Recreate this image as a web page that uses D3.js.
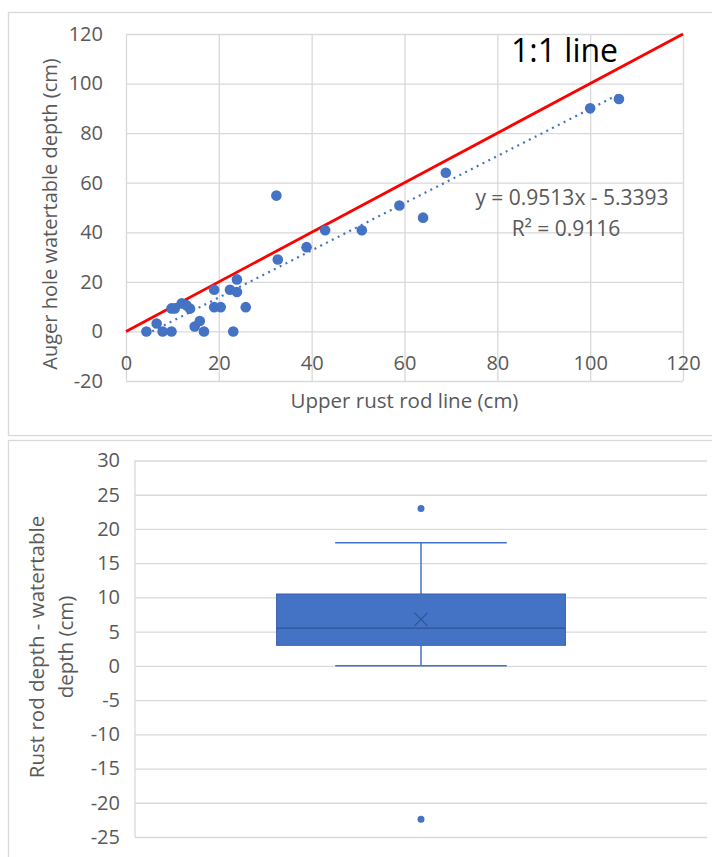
<!DOCTYPE html>
<html lang="en">
<head>
<meta charset="utf-8"/>
<script src="https://d3js.org/d3.v7.min.js"></script>
<style>
  body { margin: 0; background: #fff; }
  svg text { font-family: "Open Sans", "Segoe UI", sans-serif; }
</style>
</head>
<body>
<div id="chart"></div>
<script>
// scatter: upper rust rod line vs auger hole watertable depth (cm)
var rodDepth   = [4.4, 6.6, 7.9, 9.8, 9.8, 10.5, 12, 13, 13.8, 14.8, 15.9, 16.8, 19, 19, 20.4, 22.4, 23.9, 23.9, 23.1, 25.8,
                  32.4, 32.7, 38.9, 42.9, 50.8, 58.9, 64, 68.9, 100, 106.2];
var waterDepth = [0, 3.2, 0, 0, 9.3, 9.3, 11.3, 10.6, 9.2, 2, 4.2, 0, 16.8, 9.8, 9.8, 16.8, 21, 15.9, 0, 9.8,
                  54.8, 29, 34, 40.8, 40.8, 50.8, 45.9, 64, 90, 93.8];
var slope = 0.9513, intercept = -5.3393, r2 = 0.9116;
var oneToOne = [0, 120];
var xTicksTop = [0, 20, 40, 60, 80, 100, 120];
var yTicksTop = [-20, 0, 20, 40, 60, 80, 100, 120];

// box plot: rust rod depth - watertable depth (cm)
var boxCategory = [""];
var boxQ1 = 3, boxMedian = 5.5, boxQ3 = 10.5, boxLow = 0, boxHigh = 18, boxMean = 6.8;
var boxOutliers = [23, -22.4];
var yTicksBottom = [-25, -20, -15, -10, -5, 0, 5, 10, 15, 20, 25, 30];

var W = 712, H = 857;
var blue = "#4472c4", grid = "#d9d9d9", textCol = "#595959";
var fmt = function (d) { return String(d); };   // plain hyphen minus, like Excel

var svg = d3.select("#chart").append("svg")
    .attr("width", W).attr("height", H);

// panel frames
svg.append("rect").attr("x", 8.5).attr("y", 12.5).attr("width", 720).attr("height", 423)
    .attr("fill", "none").attr("stroke", grid).attr("stroke-width", 1.3);
svg.append("rect").attr("x", 8.5).attr("y", 440.5).attr("width", 720).attr("height", 430)
    .attr("fill", "none").attr("stroke", grid).attr("stroke-width", 1.3);

// ---------- top chart ----------
var x = d3.scaleLinear().domain([0, 120]).range([126, 683]);
var y = d3.scaleLinear().domain([-20, 120]).range([381, 34]);

svg.append("g")
    .attr("transform", "translate(0," + y(-20) + ")")
    .call(d3.axisBottom(x).tickValues(xTicksTop).tickSize(-(y(-20) - y(120))).tickFormat(""))
    .call(function (g) { g.select(".domain").remove(); })
    .selectAll("line").attr("stroke", grid).attr("stroke-width", 1.3);

svg.append("g")
    .attr("transform", "translate(" + x(0) + ",0)")
    .call(d3.axisLeft(y).tickValues(yTicksTop).tickSize(-(x(120) - x(0))).tickFormat(""))
    .call(function (g) { g.select(".domain").remove(); })
    .selectAll("line").attr("stroke", grid).attr("stroke-width", 1.3);

var xAxisTop = svg.append("g")
    .attr("transform", "translate(0," + y(0) + ")")
    .call(d3.axisBottom(x).tickValues(xTicksTop).tickFormat(fmt).tickSize(0).tickPadding(24));
xAxisTop.select(".domain").remove();
xAxisTop.selectAll("text").attr("fill", textCol).style("font-size", "20px");

var yAxisTop = svg.append("g")
    .attr("transform", "translate(" + x(0) + ",0)")
    .call(d3.axisLeft(y).tickValues(yTicksTop).tickFormat(fmt).tickSize(0).tickPadding(23));
yAxisTop.select(".domain").remove();
yAxisTop.selectAll("text").attr("fill", textCol).style("font-size", "20px");

svg.append("text")
    .attr("x", (x(0) + x(120)) / 2).attr("y", 408)
    .attr("text-anchor", "middle").attr("fill", textCol)
    .style("font-size", "20.5px")
    .text("Upper rust rod line (cm)");

svg.append("text")
    .attr("transform", "translate(57,214) rotate(-90)")
    .attr("text-anchor", "middle").attr("fill", textCol)
    .style("font-size", "20px")
    .text("Auger hole watertable depth (cm)");

// trendline
var xMin = d3.min(rodDepth), xMax = d3.max(rodDepth);
svg.append("line")
    .attr("x1", x(xMin)).attr("y1", y(slope * xMin + intercept))
    .attr("x2", x(xMax)).attr("y2", y(slope * xMax + intercept))
    .attr("stroke", blue).attr("stroke-width", 2.2)
    .attr("stroke-dasharray", "2,4.5");

// 1:1 line
svg.append("line")
    .attr("x1", x(oneToOne[0])).attr("y1", y(oneToOne[0]))
    .attr("x2", x(oneToOne[1])).attr("y2", y(oneToOne[1]))
    .attr("stroke", "#ff0000").attr("stroke-width", 2.8);

svg.selectAll("circle.pt")
    .data(d3.range(rodDepth.length))
    .enter().append("circle")
    .attr("class", "pt")
    .attr("cx", function (i) { return x(rodDepth[i]); })
    .attr("cy", function (i) { return y(waterDepth[i]); })
    .attr("r", 5.3)
    .attr("fill", blue);

svg.append("text")
    .attr("x", 511).attr("y", 62)
    .attr("fill", "#000").style("font-size", "32px")
    .text("1:1 line");

svg.append("text")
    .attr("x", 572).attr("y", 205)
    .attr("text-anchor", "middle").attr("fill", textCol)
    .style("font-size", "21px")
    .text("y = " + slope + "x - " + Math.abs(intercept));
svg.append("text")
    .attr("x", 566).attr("y", 236)
    .attr("text-anchor", "middle").attr("fill", textCol)
    .style("font-size", "21px")
    .text("R² = " + r2);

// ---------- bottom chart ----------
var xb = d3.scaleBand().domain(boxCategory).range([135, 707]).padding(0);
var yb = d3.scaleLinear().domain([-25, 30]).range([837, 460.5]);

svg.append("g")
    .attr("transform", "translate(" + xb.range()[0] + ",0)")
    .call(d3.axisLeft(yb).tickValues(yTicksBottom).tickSize(-(xb.range()[1] - xb.range()[0])).tickFormat(""))
    .call(function (g) { g.select(".domain").remove(); })
    .selectAll("line").attr("stroke", grid).attr("stroke-width", 1.3);

svg.append("line")
    .attr("x1", xb.range()[0]).attr("x2", xb.range()[0])
    .attr("y1", yb(30)).attr("y2", yb(-25))
    .attr("stroke", grid).attr("stroke-width", 1.3);

var yAxisBottom = svg.append("g")
    .attr("transform", "translate(" + xb.range()[0] + ",0)")
    .call(d3.axisLeft(yb).tickValues(yTicksBottom).tickFormat(fmt).tickSize(0).tickPadding(15));
yAxisBottom.select(".domain").remove();
yAxisBottom.selectAll("text").attr("fill", textCol).style("font-size", "20px");

var yTitle = svg.append("text")
    .attr("transform", "translate(0,647) rotate(-90)")
    .attr("text-anchor", "middle").attr("fill", textCol)
    .style("font-size", "20.5px");
yTitle.append("tspan").attr("x", 0).attr("y", 44).text("Rust rod depth - watertable");
yTitle.append("tspan").attr("x", 0).attr("y", 73).text("depth (cm)");

var cx = xb(boxCategory[0]) + xb.bandwidth() / 2;
var boxW = xb.bandwidth() * 0.505;
var capW = xb.bandwidth() * 0.15;

// whiskers
svg.append("line")
    .attr("x1", cx).attr("x2", cx).attr("y1", yb(boxHigh)).attr("y2", yb(boxQ3))
    .attr("stroke", blue).attr("stroke-width", 1.5);
svg.append("line")
    .attr("x1", cx).attr("x2", cx).attr("y1", yb(boxQ1)).attr("y2", yb(boxLow))
    .attr("stroke", blue).attr("stroke-width", 1.5);
[boxHigh, boxLow].forEach(function (v) {
    svg.append("line")
        .attr("x1", cx - capW).attr("x2", cx + capW).attr("y1", yb(v)).attr("y2", yb(v))
        .attr("stroke", blue).attr("stroke-width", 1.5);
});

svg.append("rect")
    .attr("x", cx - boxW / 2).attr("y", yb(boxQ3))
    .attr("width", boxW).attr("height", yb(boxQ1) - yb(boxQ3))
    .attr("fill", blue).attr("stroke", "#3a63ad").attr("stroke-width", 1);

svg.append("line")
    .attr("x1", cx - boxW / 2).attr("x2", cx + boxW / 2)
    .attr("y1", yb(boxMedian)).attr("y2", yb(boxMedian))
    .attr("stroke", "#2f5597").attr("stroke-width", 1.3);

// mean marker
var m = 6.5;
svg.append("path")
    .attr("d", "M" + (cx - m) + "," + (yb(boxMean) - m) + "L" + (cx + m) + "," + (yb(boxMean) + m) +
               "M" + (cx - m) + "," + (yb(boxMean) + m) + "L" + (cx + m) + "," + (yb(boxMean) - m))
    .attr("stroke", "#2f5597").attr("stroke-width", 1.2).attr("fill", "none");

svg.selectAll("circle.out")
    .data(boxOutliers)
    .enter().append("circle")
    .attr("class", "out")
    .attr("cx", cx)
    .attr("cy", function (d) { return yb(d); })
    .attr("r", 3.5)
    .attr("fill", blue);
</script>
</body>
</html>
